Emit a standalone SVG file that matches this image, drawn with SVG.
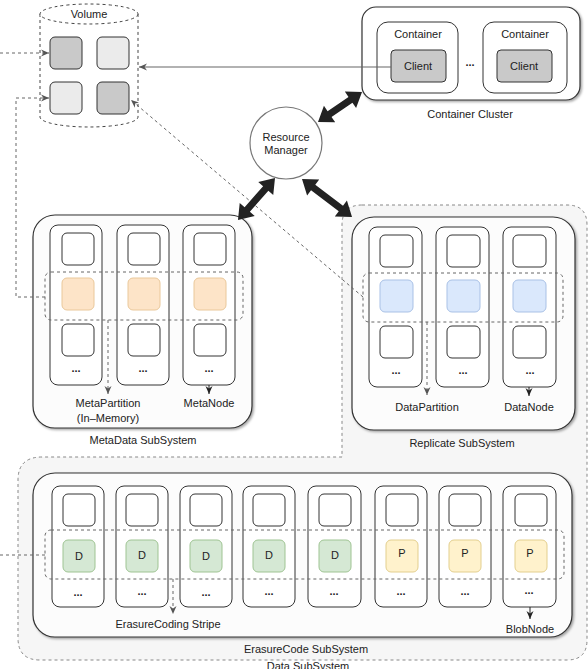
<svg xmlns="http://www.w3.org/2000/svg" width="588" height="669" viewBox="0 0 588 669">
<style>
text{font-family:"Liberation Sans",Arial,sans-serif;font-size:11px;fill:#222;text-anchor:middle;dominant-baseline:central}
.sub{fill:#fcfcfc;stroke:#333;stroke-width:1.2}
.col{fill:#fff;stroke:#333;stroke-width:1}
.box{fill:#fff;stroke:#333;stroke-width:1}
.org{fill:#fde4c8;stroke:#eac89a;stroke-width:1}
.blu{fill:#dae8fc;stroke:#a9c1e6;stroke-width:1}
.grn{fill:#d5e8d4;stroke:#9fc493;stroke-width:1}
.yel{fill:#fff2cc;stroke:#e3cf8e;stroke-width:1}
.stripe{fill:none;stroke:#666;stroke-width:1;stroke-dasharray:3 3}
.dash{fill:none;stroke:#666;stroke-width:1;stroke-dasharray:3 3}
.dots{font-weight:bold;font-size:11px}
.big{fill:#222}
</style>
<defs>
<filter id="sh" x="-5%" y="-5%" width="115%" height="115%"><feDropShadow dx="1.5" dy="1.5" stdDeviation="0.8" flood-color="#000" flood-opacity="0.35"/></filter>
<marker id="ad" markerUnits="userSpaceOnUse" markerWidth="10" markerHeight="8" refX="8" refY="4" orient="auto"><path d="M0,0.5 L8,4 L0,7.5 L2.5,4 z" fill="#555"/></marker>
<marker id="as" markerUnits="userSpaceOnUse" markerWidth="10" markerHeight="8" refX="8" refY="4" orient="auto"><path d="M0,0.5 L8,4 L0,7.5 L2.5,4 z" fill="#222"/></marker>
</defs>

<g id="data-subsystem">
<path d="M362,205 H567 Q587,205 587,225 V640 Q587,660 567,660 H40 Q18,660 18,638 V480 Q18,457 42,457 H342 V225 Q342,205 362,205 Z" fill="#f6f6f6" stroke="#888" stroke-width="1" stroke-dasharray="3 3"/>
<text x="308" y="666">Data SubSystem</text>
</g>

<g id="volume">
<path d="M40,14 V117 A49,10 0 0 0 138,117 V14" fill="#fff" stroke="#444" stroke-width="1" stroke-dasharray="3 3"/>
<ellipse cx="89" cy="14" rx="49" ry="10" fill="#fff" stroke="#444" stroke-width="1" stroke-dasharray="3 3"/>
<text x="89" y="14">Volume</text>
<rect x="50" y="37" width="32" height="32" rx="5" fill="#c9c9c9" stroke="#333"/>
<rect x="97" y="37" width="32" height="32" rx="5" fill="#ebebeb" stroke="#333"/>
<rect x="50" y="82" width="32" height="32" rx="5" fill="#ebebeb" stroke="#333"/>
<rect x="97" y="82" width="32" height="32" rx="5" fill="#c9c9c9" stroke="#333"/>
</g>

<g id="container-cluster">
<rect x="362" y="7" width="218" height="93" rx="14" fill="#fff" stroke="#333" stroke-width="1.2" filter="url(#sh)"/>
<rect x="377" y="22" width="81" height="71" rx="11" fill="#fff" stroke="#333"/>
<rect x="483" y="22" width="84" height="71" rx="11" fill="#fff" stroke="#333"/>
<text x="418" y="34">Container</text>
<text x="525" y="34">Container</text>
<rect x="391" y="50" width="55" height="32" rx="4" fill="#c9c9c9" stroke="#333"/>
<rect x="497" y="50" width="55" height="32" rx="4" fill="#c9c9c9" stroke="#333"/>
<text x="418" y="66">Client</text>
<text x="524" y="66">Client</text>
<text x="470" y="62" class="dots">...</text>
<text x="470" y="114">Container Cluster</text>
</g>

<g id="resource-manager">
<circle cx="286" cy="143" r="36" fill="#fff" stroke="#777" stroke-width="1.2"/>
<text x="286" y="137">Resource</text>
<text x="286" y="150">Manager</text>
</g>

<g id="metadata-subsystem">
<rect x="33" y="215" width="219" height="213" rx="22" class="sub" filter="url(#sh)"/>
<rect x="50" y="225" width="52" height="160" rx="8" class="col"/>
<rect x="117" y="225" width="52" height="160" rx="8" class="col"/>
<rect x="183" y="225" width="52" height="160" rx="8" class="col"/>
<rect x="62" y="233" width="32" height="32" rx="5" class="box"/>
<rect x="128" y="233" width="32" height="32" rx="5" class="box"/>
<rect x="194" y="233" width="32" height="32" rx="5" class="box"/>
<rect x="62" y="278" width="32" height="32" rx="5" class="org"/>
<rect x="128" y="278" width="32" height="32" rx="5" class="org"/>
<rect x="194" y="278" width="32" height="32" rx="5" class="org"/>
<rect x="62" y="324" width="32" height="32" rx="5" class="box"/>
<rect x="128" y="324" width="32" height="32" rx="5" class="box"/>
<rect x="194" y="324" width="32" height="32" rx="5" class="box"/>
<text x="76" y="368" class="dots">...</text>
<text x="143" y="368" class="dots">...</text>
<text x="209" y="368" class="dots">...</text>
<rect x="45" y="272" width="198" height="48" rx="6" class="stripe"/>
<text x="108" y="403">MetaPartition</text>
<text x="108" y="418">(In–Memory)</text>
<text x="209" y="403">MetaNode</text>
<text x="143" y="440">MetaData SubSystem</text>
</g>

<g id="replicate-subsystem">
<rect x="352" y="217" width="223" height="213" rx="22" class="sub" filter="url(#sh)"/>
<rect x="369" y="227" width="53" height="160" rx="8" class="col"/>
<rect x="436" y="227" width="53" height="160" rx="8" class="col"/>
<rect x="503" y="227" width="53" height="160" rx="8" class="col"/>
<rect x="380" y="235" width="33" height="32" rx="5" class="box"/>
<rect x="447" y="235" width="33" height="32" rx="5" class="box"/>
<rect x="513" y="235" width="33" height="32" rx="5" class="box"/>
<rect x="380" y="280" width="33" height="32" rx="5" class="blu"/>
<rect x="447" y="280" width="33" height="32" rx="5" class="blu"/>
<rect x="513" y="280" width="33" height="32" rx="5" class="blu"/>
<rect x="380" y="326" width="33" height="32" rx="5" class="box"/>
<rect x="447" y="326" width="33" height="32" rx="5" class="box"/>
<rect x="513" y="326" width="33" height="32" rx="5" class="box"/>
<text x="396" y="370" class="dots">...</text>
<text x="463" y="370" class="dots">...</text>
<text x="530" y="370" class="dots">...</text>
<rect x="363" y="273" width="200" height="49" rx="6" class="stripe"/>
<text x="427" y="407">DataPartition</text>
<text x="529" y="407">DataNode</text>
<text x="462" y="443">Replicate SubSystem</text>
</g>

<g id="erasurecode-subsystem">
<rect x="33" y="473" width="539" height="164" rx="22" class="sub" filter="url(#sh)"/>
<rect x="52" y="486" width="52" height="121" rx="8" class="col"/>
<rect x="116" y="486" width="52" height="121" rx="8" class="col"/>
<rect x="180" y="486" width="52" height="121" rx="8" class="col"/>
<rect x="243" y="486" width="52" height="121" rx="8" class="col"/>
<rect x="308" y="486" width="53" height="121" rx="8" class="col"/>
<rect x="375" y="486" width="52" height="121" rx="8" class="col"/>
<rect x="439" y="486" width="52" height="121" rx="8" class="col"/>
<rect x="503" y="486" width="53" height="121" rx="8" class="col"/>
<rect x="63" y="494" width="32" height="32" rx="5" class="box"/>
<rect x="126" y="494" width="32" height="32" rx="5" class="box"/>
<rect x="190" y="494" width="32" height="32" rx="5" class="box"/>
<rect x="253" y="494" width="32" height="32" rx="5" class="box"/>
<rect x="319" y="494" width="32" height="32" rx="5" class="box"/>
<rect x="386" y="494" width="32" height="32" rx="5" class="box"/>
<rect x="449" y="494" width="32" height="32" rx="5" class="box"/>
<rect x="515" y="494" width="32" height="32" rx="5" class="box"/>
<rect x="63" y="540" width="32" height="32" rx="5" class="grn"/>
<rect x="126" y="540" width="32" height="32" rx="5" class="grn"/>
<rect x="190" y="540" width="32" height="32" rx="5" class="grn"/>
<rect x="253" y="540" width="32" height="32" rx="5" class="grn"/>
<rect x="319" y="540" width="32" height="32" rx="5" class="grn"/>
<rect x="386" y="540" width="32" height="32" rx="5" class="yel"/>
<rect x="449" y="540" width="32" height="32" rx="5" class="yel"/>
<rect x="515" y="540" width="32" height="32" rx="5" class="yel"/>
<text x="79" y="556">D</text>
<text x="142" y="555">D</text>
<text x="206" y="556">D</text>
<text x="269" y="555">D</text>
<text x="335" y="555">D</text>
<text x="402" y="553">P</text>
<text x="465" y="553">P</text>
<text x="530" y="553">P</text>
<text x="78" y="592" class="dots">...</text>
<text x="142" y="591" class="dots">...</text>
<text x="206" y="592" class="dots">...</text>
<text x="269" y="591" class="dots">...</text>
<text x="334" y="591" class="dots">...</text>
<text x="401" y="591" class="dots">...</text>
<text x="465" y="591" class="dots">...</text>
<text x="529" y="590" class="dots">...</text>
<rect x="45" y="530" width="519" height="49" rx="6" class="stripe"/>
<text x="168" y="624">ErasureCoding Stripe</text>
<text x="530" y="629">BlobNode</text>
<text x="306" y="649">ErasureCode SubSystem</text>
</g>

<g id="connectors">
<line x1="391" y1="67" x2="139" y2="67" stroke="#666" stroke-width="1.2" marker-end="url(#ad)"/>
<line x1="0" y1="53" x2="49" y2="53" class="dash" marker-end="url(#ad)"/>
<polyline points="45,297 16,297 16,98 49,98" class="dash" marker-end="url(#ad)"/>
<line x1="363" y1="297" x2="131" y2="100" class="dash" marker-end="url(#ad)"/>
<line x1="0" y1="555" x2="45" y2="555" class="dash"/>
<line x1="108" y1="320" x2="108" y2="394" class="dash" marker-end="url(#ad)"/>
<line x1="427" y1="322" x2="427" y2="395" class="dash" marker-end="url(#ad)"/>
<line x1="173" y1="579" x2="173" y2="614" class="dash" marker-end="url(#ad)"/>
<line x1="209" y1="385" x2="209" y2="394" stroke="#222" stroke-width="1" marker-end="url(#as)"/>
<line x1="529" y1="387" x2="529" y2="396" stroke="#222" stroke-width="1" marker-end="url(#as)"/>
<line x1="530" y1="607" x2="530" y2="619" stroke="#222" stroke-width="1" marker-end="url(#as)"/>
<path class="big" transform="translate(318,122) rotate(-34.3)" d="M0,0 L14,-10 L14,-3.5 L39.3,-3.5 L39.3,-10 L53.3,0 L39.3,10 L39.3,3.5 L14,3.5 L14,10 Z"/>
<path class="big" transform="translate(275,178) rotate(131.4)" d="M0,0 L14,-10 L14,-3.5 L42,-3.5 L42,-10 L56,0 L42,10 L42,3.5 L14,3.5 L14,10 Z"/>
<path class="big" transform="translate(302,179) rotate(37.2)" d="M0,0 L14,-10 L14,-3.5 L48.8,-3.5 L48.8,-10 L62.8,0 L48.8,10 L48.8,3.5 L14,3.5 L14,10 Z"/>
</g>
</svg>
